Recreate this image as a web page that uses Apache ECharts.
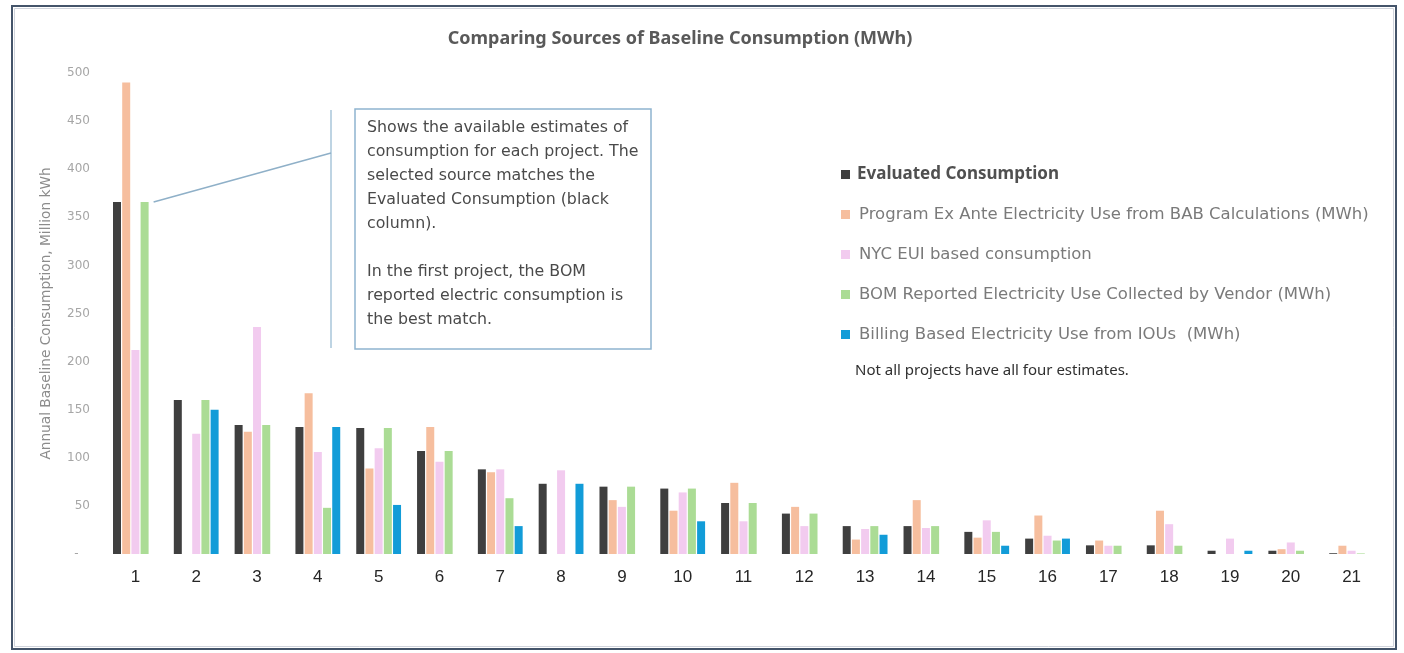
<!DOCTYPE html>
<html>
<head>
<meta charset="utf-8">
<script src="https://cdn.jsdelivr.net/npm/echarts@6/dist/echarts.min.js"></script>
<style>
  html, body { margin: 0; padding: 0; background: #ffffff; }
  #chart { width: 1404px; height: 653px; }
</style>
</head>
<body>
<div id="chart"></div>
<script>
// Projects 1..21 and the available consumption estimates (null = estimate not available)
const projects = ['1','2','3','4','5','6','7','8','9','10','11','12','13','14','15','16','17','18','19','20','21'];

const evaluated = [366, 160, 134, 132, 131, 107, 88, 73, 70, 68, 53, 42, 29, 29, 23, 16, 9, 9, 3.4, 3.4, 0.8];
const exAnteBAB = [490, null, 127, 167, 89, 132, 85, null, 56, 45, 74, 49, 15, 56, 17, 40, 14, 45, null, 5, 8.6];
const nycEUI    = [212, 125, 236, 106, 110, 96, 88, 87, 49, 64, 34, 29, 26, 27, 35, 19, 8.6, 31, 16, 12, 3.4];
const bomVendor = [366, 160, 134, 48, 131, 107, 58, null, 70, 68, 53, 42, 29, 29, 23, 14, 8.6, 8.6, null, 3.4, 0.6];
const billingIOU = [null, 150, null, 132, 51, null, 29, 73, null, 34, null, null, 20, null, 8.6, 16, null, null, 3.4, null, null];

const seriesNames = [
  'Evaluated Consumption',
  'Program Ex Ante Electricity Use from BAB Calculations (MWh)',
  'NYC EUI based consumption',
  'BOM Reported Electricity Use Collected by Vendor (MWh)',
  'Billing Based Electricity Use from IOUs  (MWh)'
];
const seriesData = [evaluated, exAnteBAB, nycEUI, bomVendor, billingIOU];
const seriesColors = ['#3f3f3f', '#f6be9e', '#f2cbef', '#abdc95', '#129cd8'];

const yTicks = { min: 0, max: 500, interval: 50 };

const chart = echarts.init(document.getElementById('chart'), null, { renderer: 'canvas' });

const series = seriesData.map((d, i) => ({
  name: seriesNames[i],
  type: 'bar',
  data: d,
  barWidth: 8,
  barGap: '15%',
  itemStyle: { color: seriesColors[i] },
  emphasis: { disabled: true }
}));

chart.setOption({
  animation: false,
  backgroundColor: '#ffffff',
  title: {
    text: 'Comparing Sources of Baseline Consumption (MWh)',
    left: 675, top: 25, textAlign: 'center',
    textStyle: { fontFamily: 'Noto Sans', fontSize: 18, fontWeight: 'bold', color: '#595959' }
  },
  legend: {
    orient: 'vertical',
    left: 836, top: 161,
    itemWidth: 9, itemHeight: 9, itemGap: 23,
    icon: 'rect',
    selectedMode: false,
    textStyle: { fontFamily: 'DejaVu Sans', fontSize: 16.5, color: '#7a7a7a', lineHeight: 17, padding: [0, 0, 0, 4] },
    data: seriesNames.map((n, i) => i === 0
      ? { name: n, textStyle: { fontFamily: 'Noto Sans', fontSize: 17, fontWeight: 'bold', color: '#505050', padding: [0, 0, 0, 2] } }
      : { name: n })
  },
  grid: { left: 105, right: 22, top: 73, bottom: 99, containLabel: false },
  xAxis: {
    type: 'category',
    data: projects,
    axisLine: { show: false },
    axisTick: { show: false },
    axisLabel: { fontFamily: 'Liberation Sans', fontSize: 17, color: '#262626', margin: 15 }
  },
  yAxis: {
    type: 'value',
    min: yTicks.min, max: yTicks.max, interval: yTicks.interval,
    name: 'Annual Baseline Consumption, Million kWh',
    nameLocation: 'middle', nameGap: 52,
    nameTextStyle: { fontFamily: 'DejaVu Sans', fontSize: 13.7, color: '#8c8c8c' },
    axisLine: { show: false },
    axisTick: { show: false },
    splitLine: { show: false },
    axisLabel: {
      fontFamily: 'DejaVu Sans', fontSize: 12, color: '#a6a6a6', margin: 15,
      formatter: v => (v === 0 ? '-   ' : String(v))
    }
  },
  series: series
});

// Frame, callout box and note
function drawOverlay() {
  // callout points just right of the top of the BOM bar of the first project
  let tip = [153, 201];
  try {
    const layout = chart.getModel().getSeriesByIndex(3).getData().getItemLayout(0);
    tip = [layout.x + layout.width + 5, Math.min(layout.y, layout.y + layout.height)];
  } catch (e) {}

  const annotation = [
    'Shows the available estimates of',
    'consumption for each project. The',
    'selected source matches the',
    'Evaluated Consumption (black',
    'column).',
    '',
    'In the first project, the BOM',
    'reported electric consumption is',
    'the best match.'
  ].join('\n');

  chart.setOption({
    graphic: [
      { type: 'rect', shape: { x: 12, y: 6, width: 1384, height: 643 },
        style: { fill: null, stroke: '#44546a', lineWidth: 2 }, silent: true, z: 100 },
      { type: 'rect', shape: { x: 14.5, y: 8.5, width: 1379, height: 638 },
        style: { fill: null, stroke: '#d0d4dc', lineWidth: 1 }, silent: true, z: 100 },
      { type: 'line', shape: { x1: 331, y1: 110, x2: 331, y2: 348 },
        style: { stroke: '#a9c6da', lineWidth: 1.5 }, silent: true, z: 50 },
      { type: 'line', shape: { x1: 331, y1: 153, x2: tip[0], y2: tip[1] },
        style: { stroke: '#8fb0c8', lineWidth: 1.5 }, silent: true, z: 50 },
      { type: 'rect', shape: { x: 355, y: 109, width: 296, height: 240 },
        style: { fill: '#ffffff', stroke: '#8fb4cf', lineWidth: 1.5 }, silent: true, z: 50 },
      { type: 'text', x: 367, y: 116, silent: true, z: 51,
        style: { text: annotation, fontFamily: 'DejaVu Sans', fontSize: 15.8, lineHeight: 24,
                 fill: '#4a4a4a' } },
      { type: 'text', x: 855, y: 363, silent: true, z: 51,
        style: { text: 'Not all projects have all four estimates.', fontFamily: 'Noto Sans',
                 fontSize: 15, fill: '#303030' } }
    ]
  });
}
drawOverlay();
</script>
</body>
</html>
